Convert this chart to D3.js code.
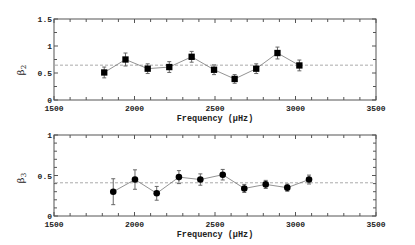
<!DOCTYPE html>
<html><head><meta charset="utf-8">
<script src="https://cdn.jsdelivr.net/npm/d3@7"></script>
<style>body{margin:0;background:#fff}svg{display:block}</style>
</head><body><svg id="c" width="415" height="245"></svg>
<script>
const freq2 = [1812, 1944, 2082, 2216, 2355, 2494, 2622, 2756, 2888, 3024];
const beta2 = [0.51, 0.75, 0.58, 0.61, 0.80, 0.56, 0.39, 0.58, 0.87, 0.64];
const err2  = [0.10, 0.12, 0.09, 0.10, 0.10, 0.09, 0.08, 0.09, 0.11, 0.10];
const mean2 = 0.645;
const freq3 = [1868, 2003, 2138, 2276, 2409, 2548, 2682, 2815, 2949, 3084];
const beta3 = [0.30, 0.45, 0.28, 0.48, 0.45, 0.51, 0.34, 0.39, 0.35, 0.45];
const err3  = [0.16, 0.12, 0.085, 0.08, 0.07, 0.065, 0.05, 0.05, 0.045, 0.055];
const mean3 = 0.41;
const xTicks = [1500, 2000, 2500, 3000, 3500];
const yTicks2 = [0, 0.5, 1, 1.5];
const yTicks3 = [0, 0.5, 1];

const svg = d3.select("#c");
const L = 54, R = 376;
const axisCol = "#555";
const mono = "'Liberation Mono', 'DejaVu Sans Mono', monospace";

function panel(cfg) {
  const x = d3.scaleLinear().domain([1500, 3500]).range([L, R]);
  const y = d3.scaleLinear().domain(cfg.ydom).range([cfg.bottom, cfg.top]);
  const g = svg.append("g");
  g.append("rect").attr("x", L).attr("y", cfg.top).attr("width", R - L).attr("height", cfg.bottom - cfg.top)
    .attr("fill", "none").attr("stroke", axisCol).attr("stroke-width", 1);
  const xMinor = d3.range(1500, 3501, 100);
  const yMinor = d3.range(cfg.ydom[0], cfg.ydom[1] + 1e-9, cfg.ystep);
  const tk = g.append("g").attr("stroke", axisCol).attr("stroke-width", 1);
  xMinor.forEach(v => {
    const len = xTicks.includes(v) ? 4 : 3;
    tk.append("line").attr("x1", x(v)).attr("x2", x(v)).attr("y1", cfg.bottom).attr("y2", cfg.bottom - len);
    tk.append("line").attr("x1", x(v)).attr("x2", x(v)).attr("y1", cfg.top).attr("y2", cfg.top + len);
  });
  yMinor.forEach(v => {
    const major = cfg.yt.some(t => Math.abs(t - v) < 1e-6);
    const len = major ? 4 : 3;
    tk.append("line").attr("y1", y(v)).attr("y2", y(v)).attr("x1", L).attr("x2", L + len);
    tk.append("line").attr("y1", y(v)).attr("y2", y(v)).attr("x1", R).attr("x2", R - len);
  });
  g.selectAll(".xl").data(xTicks).enter().append("text")
    .attr("x", d => x(d)).attr("y", cfg.bottom + 11).attr("text-anchor", "middle")
    .attr("font-family", mono).attr("font-weight", "bold").attr("font-size", 8).attr("fill", "#222")
    .text(d => d);
  g.selectAll(".yl").data(cfg.yt).enter().append("text")
    .attr("x", L - 2).attr("y", d => y(d) + 3).attr("text-anchor", "end")
    .attr("font-family", mono).attr("font-weight", "bold").attr("font-size", 8).attr("fill", "#222")
    .text(d => d);
  g.append("text").attr("x", (L + R) / 2).attr("y", cfg.bottom + 21).attr("text-anchor", "middle")
    .attr("font-family", mono).attr("font-weight", "bold").attr("font-size", 8.5).attr("fill", "#222")
    .text("Frequency (\u00b5Hz)");
  const yt = g.append("text").attr("transform", `translate(${24},${cfg.labelY}) rotate(-90)`)
    .attr("text-anchor", "middle").attr("font-family", "'DejaVu Serif', serif").attr("font-size", 10).attr("fill", "#222");
  yt.append("tspan").text("\u03b2");
  yt.append("tspan").attr("font-size", 7).attr("dy", 2).text(cfg.sub);
  g.append("line").attr("x1", L + 1).attr("x2", R - 1).attr("y1", y(cfg.mean)).attr("y2", y(cfg.mean))
    .attr("stroke", "#aaa").attr("stroke-width", 1).attr("stroke-dasharray", "3,2");
  const data = cfg.f.map((f, i) => ({f, v: cfg.v[i], e: cfg.e[i]}));
  g.append("path").datum(data).attr("fill", "none").attr("stroke", "#777").attr("stroke-width", 0.8)
    .attr("d", d3.line().x(d => x(d.f)).y(d => y(d.v)));
  const eb = g.append("g").attr("stroke", "#666").attr("stroke-width", 1);
  data.forEach(d => {
    eb.append("line").attr("x1", x(d.f)).attr("x2", x(d.f)).attr("y1", y(d.v - d.e)).attr("y2", y(d.v + d.e));
    [d.v - d.e, d.v + d.e].forEach(t => eb.append("line").attr("x1", x(d.f) - 2).attr("x2", x(d.f) + 2).attr("y1", y(t)).attr("y2", y(t)));
  });
  g.selectAll(".m").data(data).enter().append("path")
    .attr("transform", d => `translate(${x(d.f)},${y(d.v)})`)
    .attr("d", d3.symbol().type(cfg.sym).size(cfg.symSize))
    .attr("fill", "#000");
}

panel({top: 19, bottom: 100, ydom: [0, 1.5], ystep: 0.25, yt: yTicks2, f: freq2, v: beta2, e: err2,
  mean: mean2, sym: d3.symbolSquare, symSize: 40, sub: "2", labelY: 70});
panel({top: 135, bottom: 216, ydom: [0, 1], ystep: 0.1, yt: yTicks3, f: freq3, v: beta3, e: err3,
  mean: mean3, sym: d3.symbolCircle, symSize: 34, sub: "3", labelY: 178});
</script></body></html>
